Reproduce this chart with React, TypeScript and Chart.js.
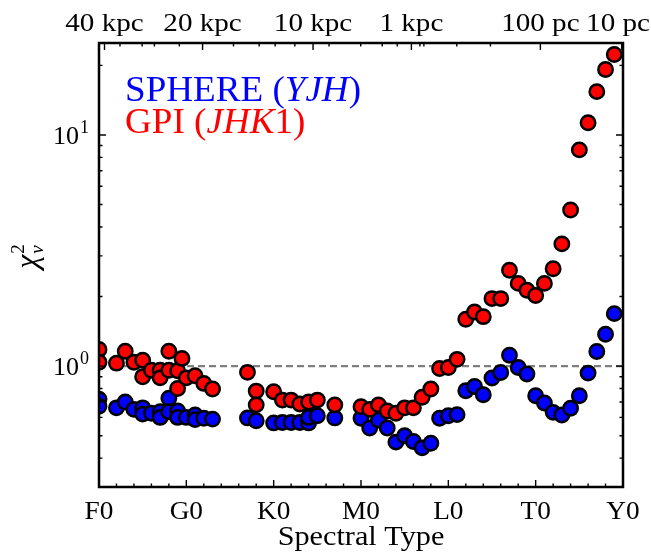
import React, { useEffect, useRef } from "react";
import { Chart, registerables } from "chart.js";

Chart.register(...registerables);

// ---- data (spectral type index: F0=0, G0=10, K0=20, M0=30, L0=40, T0=50, Y0=60) ----
const sphereSpT = [0, 0, 2, 3, 4, 5, 5, 6, 7, 7, 8, 8, 9, 9, 10, 11, 11, 12, 13, 17, 18,
  20, 21, 22, 23, 24, 24, 25, 27, 30, 31, 32, 33, 34, 35, 36, 37, 38, 39,
  40, 41, 42, 43, 44, 45, 46, 47, 48, 49, 50, 51, 52, 53, 54, 55, 56, 57, 58, 59];
const sphereChi = [0.72, 0.67, 0.66, 0.70, 0.65, 0.66, 0.62, 0.625, 0.635, 0.60, 0.726, 0.635, 0.64, 0.60, 0.60, 0.615, 0.587, 0.595, 0.59, 0.597, 0.58,
  0.568, 0.57, 0.57, 0.57, 0.568, 0.60, 0.61, 0.597, 0.595, 0.54, 0.585, 0.54, 0.469, 0.50, 0.472, 0.443, 0.464, 0.595,
  0.61, 0.617, 0.783, 0.817, 0.752, 0.888, 0.939, 1.115, 0.987, 0.924, 0.745, 0.693, 0.631, 0.615, 0.657, 0.745, 0.933, 1.157, 1.374, 1.687];

const gpiSpT = [0, 0, 2, 3, 4, 5, 5, 6, 7, 7, 8, 8, 9, 9, 9.5, 10, 11, 12, 13, 17, 18, 18,
  20, 21, 22, 23, 24, 25, 27, 30, 31, 32, 33, 34, 35, 36, 37, 38, 39,
  40, 41, 42, 43, 44, 45, 46, 47, 48, 49, 50, 51, 52, 53, 54, 55, 56, 57, 58, 59];
const gpiChi = [1.18, 1.04, 1.03, 1.16, 1.04, 1.06, 0.90, 0.96, 0.96, 0.89, 1.16, 0.96, 0.955, 0.80, 1.08, 0.89, 0.908, 0.842, 0.796, 0.94, 0.78, 0.68,
  0.775, 0.713, 0.713, 0.686, 0.70, 0.713, 0.68, 0.668, 0.65, 0.68, 0.64, 0.625, 0.66, 0.66, 0.733, 0.796, 0.977,
  0.987, 1.07, 1.595, 1.714, 1.637, 1.96, 1.96, 2.60, 2.28, 2.13, 2.02, 2.28, 2.64, 3.38, 4.74, 8.62, 11.3, 15.4, 19.2, 22.3];

const refLevel = [1, 1];
const refSpT = [0, 60];

const spTMajor = [0, 10, 20, 30, 40, 50, 60];
const spTLabels = ["F0", "G0", "K0", "M0", "L0", "T0", "Y0"];
const spTMinor = [2, 4, 6, 8, 12, 14, 16, 18, 22, 24, 26, 28, 32, 34, 36, 38, 42, 44, 46, 48, 52, 54, 56, 58];

const distMajorPos = [0.63, 11.86, 24.51, 35.77, 50.54, 59.85];
const distLabels = ["40 kpc", "20 kpc", "10 kpc", "1 kpc", "100 pc", "10 pc"];
const distMinorPos = [2.4, 4.94, 6.34, 9.2, 15.4, 18.34, 20.17, 22.42, 26.34, 29.97, 32.43, 34.15, 36.74, 37.2, 40.97, 44.82];

const chiMajor = [1, 10];
const chiMajorExp = ["0", "1"];
const chiMinor = [0.3, 0.4, 0.5, 0.6, 0.7, 0.8, 0.9, 2, 3, 4, 5, 6, 7, 8, 9, 20];

const SERIF = '"Liberation Serif", "DejaVu Serif", serif';

// draw text stretched horizontally (Computer-Modern-like width)
function fillStretched(ctx: CanvasRenderingContext2D, text: string, x: number, y: number, align: "left" | "center", sx: number) {
  const w = ctx.measureText(text).width * sx;
  const left = align === "center" ? x - w / 2 : x;
  ctx.save();
  ctx.textAlign = "left";
  ctx.translate(left, y);
  ctx.scale(sx, 1);
  ctx.fillText(text, 0, 0);
  ctx.restore();
  return w;
}

function drawRuns(ctx: CanvasRenderingContext2D, runs: [string, string][], x: number, y: number, sx: number) {
  let cx = x;
  for (const [t, f] of runs) {
    ctx.font = f;
    cx += fillStretched(ctx, t, cx, y, "left", sx);
  }
}

const decorPlugin = {
  id: "decor",
  afterDatasetsDraw(chart: any) {
    const { ctx, chartArea: a } = chart;
    const xs = chart.scales.x;
    const ys = chart.scales.y;
    ctx.save();
    ctx.strokeStyle = "#000";
    ctx.fillStyle = "#000";
    ctx.lineWidth = 1.4;
    const MAJ = 7;
    const MIN = 3.5;
    ctx.beginPath();
    for (const v of spTMajor) { const p = xs.getPixelForValue(v); ctx.moveTo(p, a.bottom); ctx.lineTo(p, a.bottom - MAJ); }
    for (const v of spTMinor) { const p = xs.getPixelForValue(v); ctx.moveTo(p, a.bottom); ctx.lineTo(p, a.bottom - MIN); }
    for (const v of distMajorPos) { const p = xs.getPixelForValue(v); ctx.moveTo(p, a.top); ctx.lineTo(p, a.top + MAJ); }
    for (const v of distMinorPos) { const p = xs.getPixelForValue(v); ctx.moveTo(p, a.top); ctx.lineTo(p, a.top + MIN); }
    for (const v of chiMajor) {
      const p = ys.getPixelForValue(v);
      ctx.moveTo(a.left, p); ctx.lineTo(a.left + MAJ, p);
      ctx.moveTo(a.right, p); ctx.lineTo(a.right - MAJ, p);
    }
    for (const v of chiMinor) {
      const p = ys.getPixelForValue(v);
      ctx.moveTo(a.left, p); ctx.lineTo(a.left + MIN, p);
      ctx.moveTo(a.right, p); ctx.lineTo(a.right - MIN, p);
    }
    ctx.stroke();

    ctx.lineWidth = 2.5;
    ctx.strokeRect(a.left, a.top, a.right - a.left, a.bottom - a.top);

    ctx.textBaseline = "alphabetic";
    ctx.font = `26px ${SERIF}`;
    spTMajor.forEach((v, i) => fillStretched(ctx, spTLabels[i], xs.getPixelForValue(v), 519, "center", 1.05));

    ctx.font = `26px ${SERIF}`;
    distMajorPos.forEach((v, i) => {
      const w = ctx.measureText(distLabels[i]).width * 1.12;
      let cx = xs.getPixelForValue(v);
      cx = Math.min(cx, chart.width - 1 - w / 2);
      fillStretched(ctx, distLabels[i], cx, 31, "center", 1.12);
    });

    ctx.font = `27px ${SERIF}`;
    fillStretched(ctx, "Spectral Type", (a.left + a.right) / 2, 545, "center", 1.12);

    ctx.textAlign = "left";
    chiMajor.forEach((v, i) => {
      const p = ys.getPixelForValue(v);
      ctx.font = `26px ${SERIF}`;
      const w = ctx.measureText("10").width;
      ctx.fillText("10", 79 - w, p + 9);
      ctx.font = `18px ${SERIF}`;
      ctx.fillText(chiMajorExp[i], 80, p - 2);
    });

    ctx.save();
    ctx.translate(37, 257);
    ctx.rotate(-Math.PI / 2);
    ctx.font = `italic 32px ${SERIF}`;
    const cw = ctx.measureText("χ").width;
    ctx.font = `19px ${SERIF}`;
    const sw = ctx.measureText("2").width;
    const x0 = -(cw + sw) / 2;
    ctx.font = `italic 32px ${SERIF}`;
    ctx.fillText("χ", x0, 0);
    ctx.font = `19px ${SERIF}`;
    ctx.fillText("2", x0 + cw + 1, -13);
    ctx.font = `italic 19px ${SERIF}`;
    ctx.fillText("ν", x0 + cw + 1, 6);
    ctx.restore();

    ctx.fillStyle = "#0000ff";
    drawRuns(ctx, [["SPHERE (", `35px ${SERIF}`], ["YJH", `italic 35px ${SERIF}`], [")", `35px ${SERIF}`]], 125, 101, 1.06);
    ctx.fillStyle = "#ff0000";
    drawRuns(ctx, [["GPI (", `35px ${SERIF}`], ["JHK", `italic 35px ${SERIF}`], ["1)", `35px ${SERIF}`]], 125, 133, 1.06);

    ctx.restore();
  },
};

export default function App() {
  const ref = useRef<HTMLCanvasElement | null>(null);
  useEffect(() => {
    if (!ref.current) return;
    const chart = new Chart(ref.current, {
      type: "scatter",
      data: {
        datasets: [
          {
            label: "GPI (JHK1)",
            data: gpiSpT.map((x, i) => ({ x, y: gpiChi[i] })),
            backgroundColor: "#ff0000",
            borderColor: "#000000",
            borderWidth: 2.5,
            pointRadius: 7.2,
            order: 0,
          },
          {
            label: "SPHERE (YJH)",
            data: sphereSpT.map((x, i) => ({ x, y: sphereChi[i] })),
            backgroundColor: "#0000ff",
            borderColor: "#000000",
            borderWidth: 2.5,
            pointRadius: 7.2,
            order: 1,
          },
          {
            type: "line",
            label: "ref",
            data: refSpT.map((x, i) => ({ x, y: refLevel[i] })),
            borderColor: "#7f7f7f",
            borderWidth: 2.2,
            borderDash: [7, 4],
            pointRadius: 0,
            fill: false,
            order: 2,
          } as any,
        ],
      },
      options: {
        animation: false,
        responsive: false,
        devicePixelRatio: 1,
        layout: { padding: { left: 99, right: 28, top: 43, bottom: 71 } },
        scales: {
          x: { type: "linear", min: 0, max: 60, display: false },
          y: { type: "logarithmic", min: 0.3, max: 25, display: false },
        },
        plugins: { legend: { display: false }, tooltip: { enabled: false } },
        events: [],
      },
      plugins: [decorPlugin],
    });
    return () => chart.destroy();
  }, []);
  return (
    <div style={{ position: "absolute", left: 0, top: 0, width: 651, height: 558, background: "#fff" }}>
      <canvas ref={ref} width={651} height={558} style={{ width: 651, height: 558 }} />
    </div>
  );
}
